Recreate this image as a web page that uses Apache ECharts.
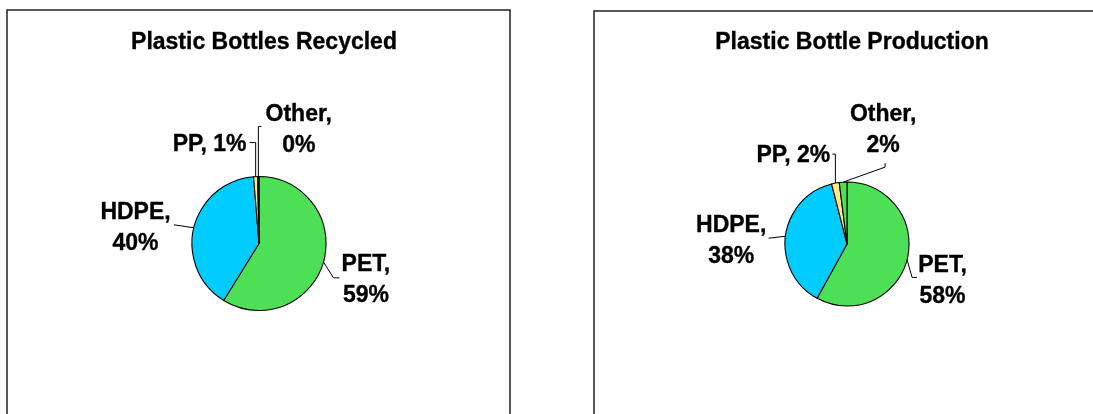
<!DOCTYPE html>
<html>
<head>
<meta charset="utf-8">
<script src="https://cdn.jsdelivr.net/npm/echarts@6/dist/echarts.min.js"></script>
<style>
  html, body { margin: 0; padding: 0; background: #fff; }
  #chart { width: 1093px; height: 414px; }
</style>
</head>
<body>
<div id="chart"></div>
<script>
// ---- data ----
const categories = ['PET', 'HDPE', 'PP', 'Other'];
const recycledValues = [59, 40, 1, 0.3];
const productionValues = [58, 38, 2, 2];
const titles = ['Plastic Bottles Recycled', 'Plastic Bottle Production'];
const colors = ['#4DDF55', '#00CCFF', '#FFE985', '#4DDF55'];

// ---- layout (styles / positions, not data) ----
const pies = [
  { center: [259, 243.5], radius: 67, values: recycledValues },
  { center: [847, 244], radius: 62, values: productionValues }
];
// per pie, per category: leader line bends relative to the slice edge point, and label anchor
const labelCfg = [
  [
    { line: [[10, 16], [16, 16]], lx: 18, ly: 18, side: 'left' },
    { line: [[-20, -3]], lx: -23, ly: 0, side: 'right' },
    { line: [[0, -34], [-6, -34]], lx: -9, ly: -32, side: 'right' },
    { line: [[0, -50], [3, -50]], lx: 7, ly: -46, side: 'left' }
  ],
  [
    { line: [[5, 18], [10, 18]], lx: 11, ly: 22, side: 'left' },
    { line: [[-17, 2]], lx: -19, ly: 5, side: 'right' },
    { line: [[0, -29], [-3, -29]], lx: -5, ly: -27, side: 'right' },
    { line: [[42, -15], [42, -19]], lx: 40, ly: -52, side: 'center' }
  ]
];

function edgePoint(si, di) {
  const p = pies[si];
  const vals = p.values;
  const total = vals.reduce((a, b) => a + b, 0);
  let before = 0;
  for (let i = 0; i < di; i++) before += vals[i];
  const theta = (before + vals[di] / 2) / total * 2 * Math.PI;
  return [p.center[0] + p.radius * Math.sin(theta), p.center[1] - p.radius * Math.cos(theta)];
}

const FONT = '"Liberation Sans", Arial, sans-serif';

const chart = echarts.init(document.getElementById('chart'), null, { renderer: 'canvas' });

const series = pies.map((p, si) => ({
  type: 'pie',
  center: p.center,
  radius: p.radius,
  startAngle: 90,
  clockwise: true,
  avoidLabelOverlap: false,
  percentPrecision: 0,
  animation: false,
  silent: true,
  data: categories.map((c, i) => ({ name: c, value: p.values[i], itemStyle: { color: colors[i] } })),
  itemStyle: { borderColor: '#000', borderWidth: 1.1 },
  label: {
    show: true,
    position: 'outside',
    color: '#000',
    fontFamily: FONT,
    fontWeight: 'bold',
    fontSize: 23,
    lineHeight: 31,
    textBorderColor: '#000',
    textBorderWidth: 0.35,
    formatter: (prm) => prm.name + ',' + (prm.name === 'PP' ? ' ' : '\n') + prm.percent + '%'
  },
  labelLine: { show: true, length: 10, length2: 5, smooth: false, lineStyle: { color: '#000', width: 1 } },
  emphasis: { disabled: true },
  labelLayout: (params) => {
    const cfg = labelCfg[si][params.dataIndex];
    const E = edgePoint(si, params.dataIndex);
    const w = params.labelRect.width;
    let x;
    if (cfg.side === 'left') x = E[0] + cfg.lx + w / 2;
    else if (cfg.side === 'right') x = E[0] + cfg.lx - w / 2;
    else x = E[0] + cfg.lx;
    const pts = [E].concat(cfg.line.map(d => [E[0] + d[0], E[1] + d[1]]));
    return { x: x, y: E[1] + cfg.ly, align: 'center', verticalAlign: 'middle', labelLinePoints: pts };
  }
}));

chart.setOption({
  backgroundColor: '#fff',
  animation: false,
  title: titles.map((t, i) => ({
    text: t,
    left: pies[i].center[0],
    top: 26,
    textAlign: 'center',
    textStyle: { fontFamily: FONT, fontWeight: 'bold', fontSize: 23, color: '#000', textBorderColor: '#000', textBorderWidth: 0.35 }
  })),
  graphic: [
    { type: 'rect', shape: { x: 7, y: 10, width: 503, height: 430 }, style: { fill: 'none', stroke: '#222', lineWidth: 1.5 }, silent: true },
    { type: 'rect', shape: { x: 594, y: 11, width: 530, height: 430 }, style: { fill: 'none', stroke: '#222', lineWidth: 1.5 }, silent: true }
  ],
  series: series
});
</script>
</body>
</html>
